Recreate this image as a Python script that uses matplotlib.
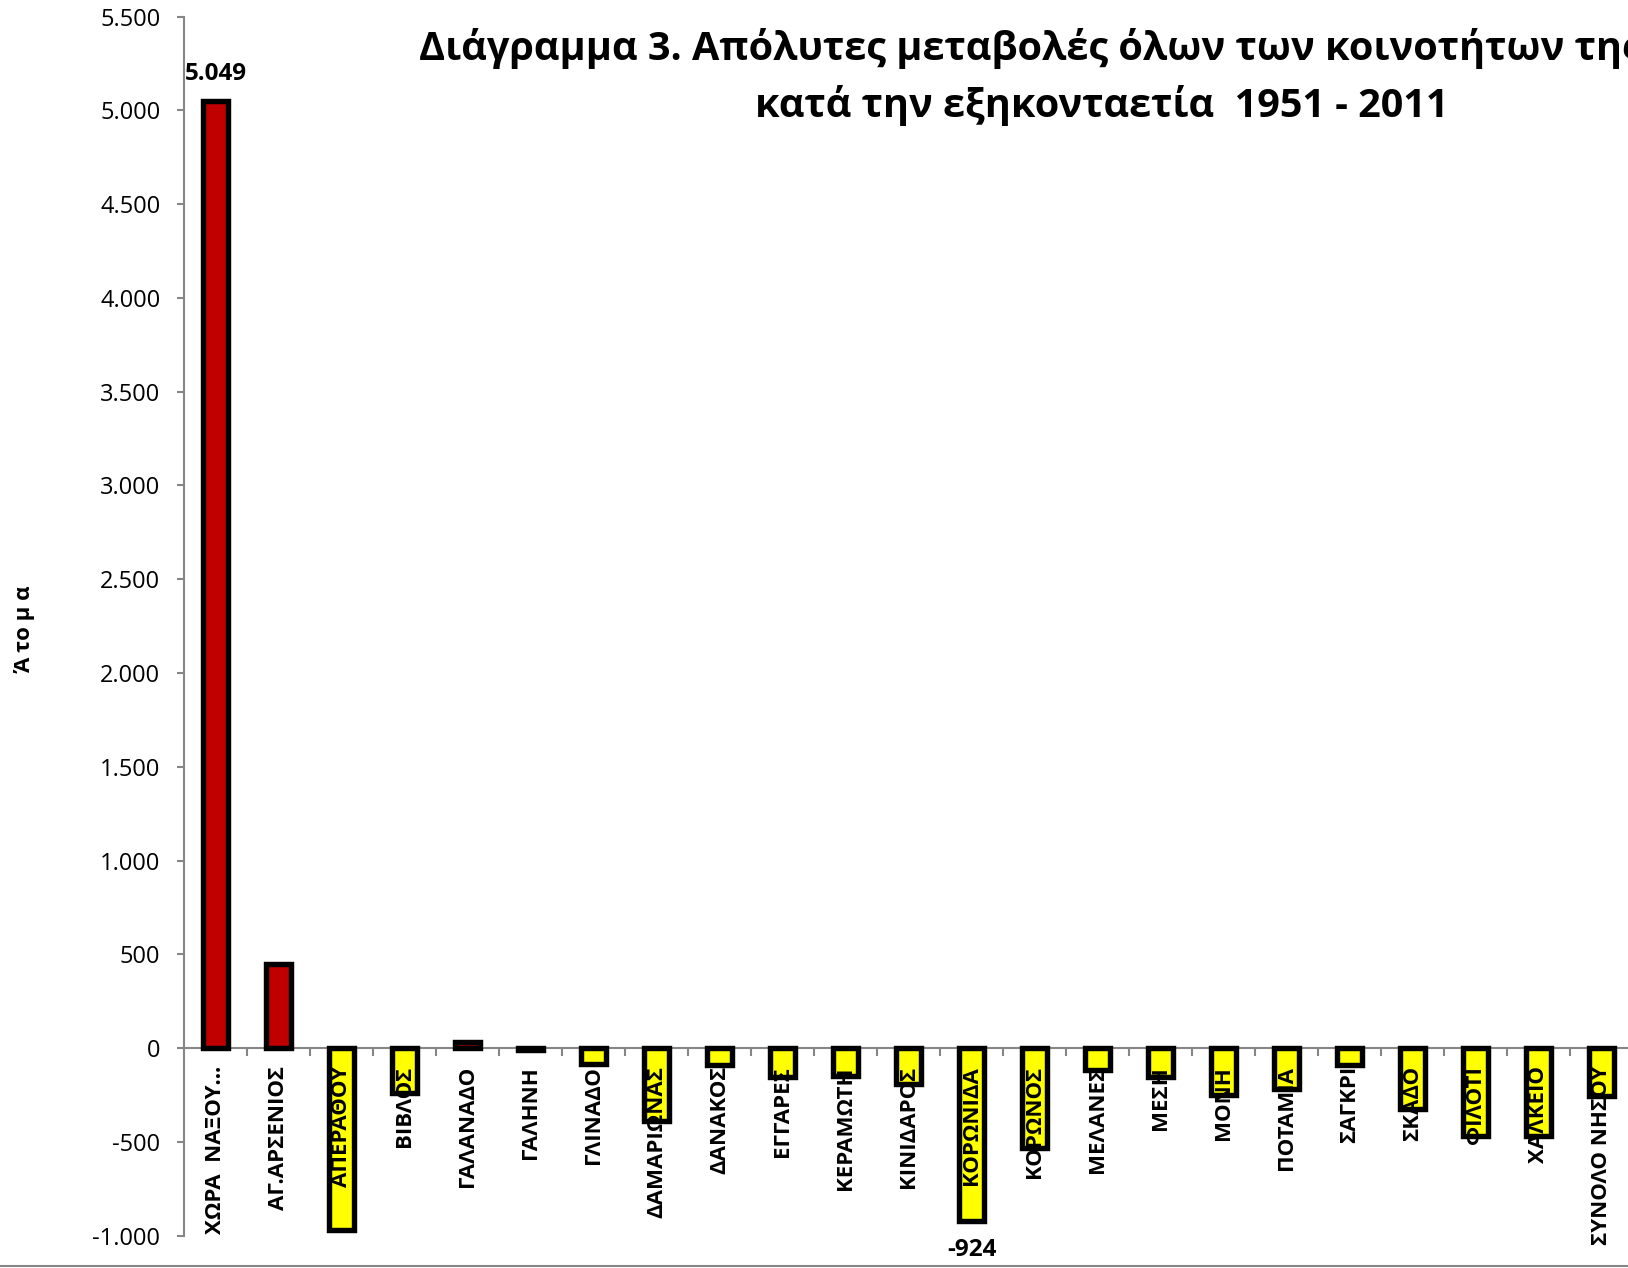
import matplotlib
matplotlib.use('Agg')
import matplotlib.pyplot as plt
from matplotlib.ticker import FuncFormatter, MultipleLocator
from matplotlib.lines import Line2D

plt.rcParams['font.family'] = ['Open Sans', 'DejaVu Sans']

categories = ['ΧΩΡΑ  ΝΑΞΟΥ…', 'ΑΓ.ΑΡΣΕΝΙΟΣ', 'ΑΠΕΡΑΘΟΥ', 'ΒΙΒΛΟΣ', 'ΓΑΛΑΝΑΔΟ',
              'ΓΑΛΗΝΗ', 'ΓΛΙΝΑΔΟ', 'ΔΑΜΑΡΙΩΝΑΣ', 'ΔΑΝΑΚΟΣ', 'ΕΓΓΑΡΕΣ',
              'ΚΕΡΑΜΩΤΗ', 'ΚΙΝΙΔΑΡΟΣ', 'ΚΟΡΩΝΙΔΑ', 'ΚΟΡΩΝΟΣ', 'ΜΕΛΑΝΕΣ',
              'ΜΕΣΗ', 'ΜΟΝΗ', 'ΠΟΤΑΜΙΑ', 'ΣΑΓΚΡΙ', 'ΣΚΑΔΟ', 'ΦΙΛΟΤΙ',
              'ΧΑΛΚΕΙΟ', 'ΣΥΝΟΛΟ ΝΗΣΟΥ']
values = [5049, 446, -972, -240, 30, -8, -85, -387, -89, -154,
          -150, -194, -924, -531, -116, -153, -250, -218, -91, -323,
          -471, -469, -256]
labelled_indices = [0, 12]

title_line1 = 'Διάγραμμα 3. Απόλυτες μεταβολές όλων των κοινοτήτων της'
title_line2 = 'κατά την εξηκονταετία  1951 - 2011'
y_label = 'Ά το μ α'

POS_COLOR = '#C00000'
NEG_COLOR = '#FFFF00'
GRAY = '#868686'


def fmt(v, pos=None):
    return f'{v:,.0f}'.replace(',', '.')


W, H = 1628, 1268
fig = plt.figure(figsize=(W / 100, H / 100), dpi=100)
left = 184 / W
bottom = 1 - 1235.6 / H
top = 1 - 16.6 / H
width = 23 * 63 / W
ax = fig.add_axes([left, bottom, width, top - bottom])
ax.set_axisbelow(False)

x = list(range(len(categories)))
colors = [POS_COLOR if v >= 0 else NEG_COLOR for v in values]
# fill under the category labels, black outline above them
ax.bar(x, values, width=0.405, color=colors, linewidth=0, zorder=1)
ax.bar(x, values, width=0.405, facecolor='none', edgecolor='black',
       linewidth=3.9, zorder=3)

ax.set_xlim(-0.5, len(categories) - 0.5)
ax.set_ylim(-1000, 5500)
ax.yaxis.set_major_locator(MultipleLocator(500))
ax.yaxis.set_major_formatter(FuncFormatter(fmt))

for s in ['top', 'right']:
    ax.spines[s].set_visible(False)
ax.spines['left'].set_color(GRAY)
ax.spines['left'].set_linewidth(1.5)
ax.spines['bottom'].set_position(('data', 0))
ax.spines['bottom'].set_color(GRAY)
ax.spines['bottom'].set_linewidth(1.5)
ax.spines['bottom'].set_zorder(0.5)

ax.set_xticks(x)
ax.set_xticklabels(categories, rotation=90, fontsize=16, fontweight='bold')
ax.set_xticks([i + 0.5 for i in x[:-1]] + [len(categories) - 0.5], minor=True)
ax.tick_params(axis='x', which='major', length=0, pad=13)
ax.tick_params(axis='x', which='minor', length=5.5, width=1.5, color=GRAY,
               direction='out')
ax.tick_params(axis='y', which='major', length=5, width=1.5, color=GRAY,
               labelsize=17, pad=12, direction='out')

for i in labelled_indices:
    v = values[i]
    if v >= 0:
        ax.annotate(fmt(v), (i, v), xytext=(0, 11), textcoords='offset points',
                    ha='center', va='bottom', fontsize=17.5, fontweight='bold',
                    annotation_clip=False)
    else:
        ax.annotate(fmt(v), (i, v), xytext=(0, -12), textcoords='offset points',
                    ha='center', va='top', fontsize=17.5, fontweight='bold',
                    annotation_clip=False)

fig.text(25 / W, 1 - 629 / H, y_label, rotation=90, ha='center', va='center',
         fontsize=16, fontweight='bold')

fig.text(419 / W, 1 - 60 / H, title_line1, ha='left', va='baseline',
         fontsize=28.5, fontweight='bold')
fig.text(1102 / W, 1 - 117 / H, title_line2, ha='center', va='baseline',
         fontsize=28.5, fontweight='bold')

fig.add_artist(Line2D([0, 1], [1 - 1266 / H, 1 - 1266 / H],
                      transform=fig.transFigure, color=GRAY, linewidth=1.5))

fig.savefig('out.png', dpi=100, facecolor='white')
